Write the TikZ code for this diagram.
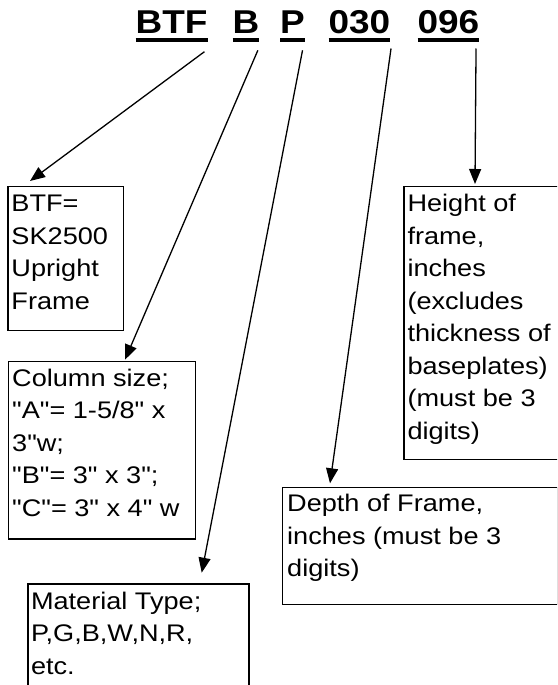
\documentclass[tikz,border=0pt]{standalone}
\usepackage{fontspec}
\setmainfont{Liberation Sans}[FakeStretch=1.13, Ligatures=TeXOff]
\newfontfamily\titlefont{Liberation Sans}[FakeStretch=1.12, Ligatures=TeXOff]
\usetikzlibrary{arrows.meta,calc}
\newcommand\wordul[1]{\leavevmode\setbox0\hbox{#1}\rlap{\rule[-8.3pt]{\wd0}{4pt}}\box0}
\newcommand\boxlines[1]{\vtop{\baselineskip=32.5pt\lineskiplimit=-100pt\lineskip=0pt #1}}
\tikzset{
  titleword/.style={anchor=base west, inner sep=0, font=\titlefont\fontsize{33}{33}\bfseries\selectfont},
  infobox/.style={draw, line width=1.3pt, anchor=north west, inner sep=0, minimum width=#1},
  infotext/.style={anchor=base west, inner sep=0, font=\fontsize{24}{32.5}\selectfont},
  pointer/.style={line width=1.3pt, -{Triangle[length=15pt,width=12pt]}}
}
\begin{document}
\begin{tikzpicture}[x=1pt,y=-1pt]
\useasboundingbox (0,0) rectangle (557,685);
\clip (0,0) rectangle (557,685);
\fill[white] (0,0) rectangle (557,685);
% title words
\node[titleword] (t1) at (135.5,33.3) {\wordul{BTF}};
\node[titleword] (t2) at (232.3,33.3) {\wordul{B}};
\node[titleword] (t3) at (280,33.3) {\wordul{P}};
\node[titleword] (t4) at (328.3,33.3) {\wordul{030}};
\node[titleword] (t5) at (417.3,33.3) {\wordul{096}};
% boxes
\node[infobox=115.4pt, minimum height=144pt] (btfbox) at (7.3,186) {};
\node[infobox=187pt, minimum height=177.6pt] (colbox) at (8,360.7) {};
\node[infobox=221pt, minimum height=140pt] (matbox) at (27.3,583.3) {};
\node[infobox=275pt, minimum height=117.3pt] (depbox) at (281.5,486.7) {};
\node[infobox=200pt, minimum height=273pt] (hgtbox) at (403.3,186) {};
% texts
\node[infotext] (btftext) at ($(btfbox.north west)+(4,25.5)$) {\boxlines{\hbox{BTF=}\hbox{SK2500}\hbox{Upright}\hbox{Frame}}};
\node[infotext] (coltext) at ($(colbox.north west)+(4,25.5)$) {\boxlines{\hbox{Column size;}\hbox{"A"= 1-5/8" x}\hbox{3"w;}\hbox{"B"= 3" x 3";}\hbox{"C"= 3" x 4" w}}};
\node[infotext] (mattext) at ($(matbox.north west)+(3.5,26)$) {\boxlines{\hbox{Material Type;}\hbox{P,G,B,W,N,R,}\hbox{etc.}}};
\node[infotext] (deptext) at ($(depbox.north west)+(5.5,25)$) {\boxlines{\hbox{Depth of Frame,}\hbox{inches (must be 3}\hbox{digits)}}};
\node[infotext] (hgttext) at ($(hgtbox.north west)+(4,25.5)$) {\boxlines{\hbox{Height of}\hbox{frame,}\hbox{inches}\hbox{(excludes}\hbox{thickness of}\hbox{baseplates)}\hbox{(must be 3}\hbox{digits)}}};
% pointers
\draw[pointer] ($(t1.base)+(32.8,18.4)$) -- ($(btfbox.north west)+(22.7,-5)$);
\draw[pointer] ($(t2.base)+(12,17)$) -- ($(colbox.north west)+(117,-1)$);
\draw[pointer] ($(t3.base)+(10,17)$) -- ($(matbox.north west)+(174.4,-10.6)$);
\draw[pointer] ($(t4.base)+(31.7,15.2)$) -- ($(depbox.north west)+(48.5,-3.4)$);
\draw[pointer] ($(t5.base)+(27.7,15.2)$) -- ($(hgtbox.north west)+(71.7,-2)$);
\end{tikzpicture}
\end{document}
